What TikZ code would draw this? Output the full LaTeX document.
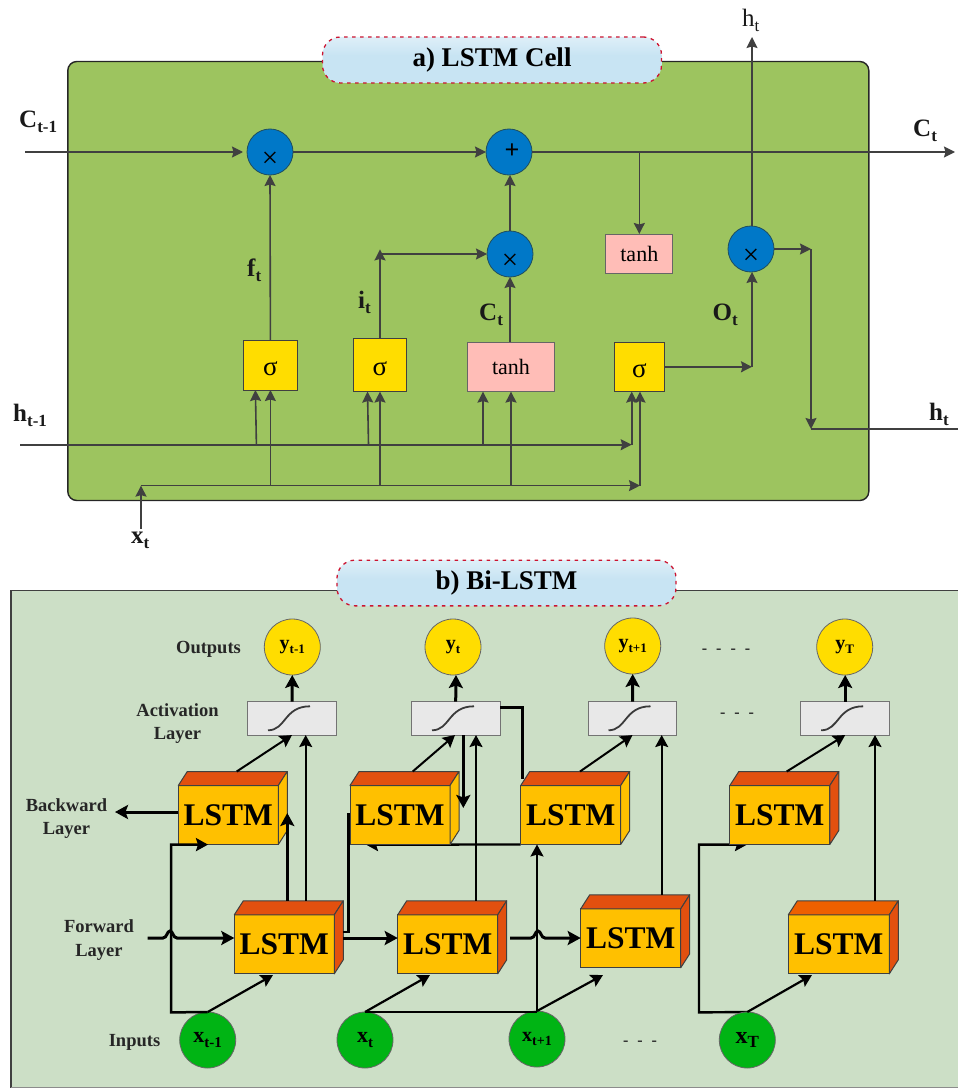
\documentclass[tikz,border=0pt]{standalone}
\usepackage{fontspec}
\setmainfont{Liberation Serif}
\usetikzlibrary{arrows.meta,calc}
\pgfdeclarelayer{backdrop}
\pgfdeclarelayer{wires}
\pgfsetlayers{backdrop,wires,main}
\definecolor{cellgreen}{HTML}{9DC45F}
\definecolor{panelgreen}{HTML}{CCDFC6}
\definecolor{linegray}{HTML}{404040}
\definecolor{opblue}{HTML}{0078C8}
\definecolor{opedge}{HTML}{1F4E5F}
\definecolor{gateyellow}{HTML}{FFDD00}
\definecolor{gatepink}{HTML}{FFBDB7}
\definecolor{blockfront}{HTML}{FFC000}
\definecolor{blockorange}{HTML}{E2500F}
\definecolor{blocktop}{HTML}{EE6000}
\definecolor{inputgreen}{HTML}{00B414}
\definecolor{actfill}{HTML}{E8E8E8}
\definecolor{pillbase}{HTML}{C8E4F3}
\definecolor{pillhi}{HTML}{E6F3FA}
\definecolor{pilldash}{HTML}{CC1430}
\pgfdeclareverticalshading{pillshade}{100bp}{color(0bp)=(pillbase); color(55bp)=(pillbase); color(82bp)=(pillhi); color(92bp)=(pillhi); color(100bp)=(pillbase)}
\newcommand{\fs}[1]{\fontsize{#1}{#1}\selectfont}
\newcommand{\sbs}[2]{\raisebox{-0.2em}{\fontsize{#1}{#1}\selectfont #2}}
\newcommand{\lowtext}[2]{\raisebox{0pt}[#1][0pt]{#2}}
% front face is a node; top and side are polygons hung on its anchors
\newcommand{\lstmblock}[6]{%
  \node (#1) [lstmface, minimum width=#4pt] at (#2,#3) {LSTM};
  \draw[blockedge, fill=#6] (#1.north west) -- ++(9,-14) -- ([shift={(9,-14)}]#1.north east) -- (#1.north east) -- cycle;
  \draw[blockedge, fill=#5] (#1.north east) -- ++(9,-14) -- ([shift={(9,-14)}]#1.south east) -- (#1.south east) -- cycle;
}
\newcommand{\scurve}[1]{%
  \draw[line width=1.8pt, color=linegray!90!black] ([shift={(-24,12)}]#1.center) .. controls ([shift={(-6,12)}]#1.center) and ([shift={(-8,-12)}]#1.center) .. ([shift={(18,-12)}]#1.center);
}
\tikzset{
  x=1pt, y=-1pt,
  arr/.style={color=linegray, line width=1.6pt, -{Stealth[length=11pt,width=11pt,inset=1.5pt]}},
  ln/.style={color=linegray, line width=1.6pt},
  thinarr/.style={color=black, line width=2pt, -{Stealth[length=12pt,width=13pt,inset=2pt]}},
  thickarr/.style={color=black, line width=3pt, -{Stealth[length=13pt,width=14pt,inset=2.5pt]}},
  thickln/.style={color=black, line width=2.5pt},
  opnode/.style={circle, draw=opedge, line width=0.8pt, fill=opblue, minimum size=46pt, inner sep=0pt, outer sep=0pt, font=\fs{29}},
  sigmabox/.style={rectangle, draw=linegray, line width=1pt, fill=gateyellow, inner sep=0pt, outer sep=0pt, font=\fs{27}},
  tanhbox/.style={rectangle, draw=linegray!80, line width=1pt, fill=gatepink, inner sep=0pt, outer sep=0pt, font=\fs{22}},
  pill/.style={rectangle, rounded corners=18pt, draw=pilldash, line width=1.3pt, dash pattern=on 3.5pt off 4.5pt, shading=pillshade, inner sep=0pt, font=\fs{27}\bfseries},
  lab/.style={inner sep=0pt, font=\fs{25}\bfseries, text=black!90},
  sidelab/.style={inner sep=0pt, align=center, font=\fs{18.5}\bfseries, text=black!85},
  lstmface/.style={rectangle, draw=linegray, line width=1pt, fill=blockfront, minimum height=59pt, inner sep=0pt, outer sep=0pt, font=\fs{31.5}\bfseries},
  blockedge/.style={draw=linegray, line width=1pt, line join=round},
  actbox/.style={rectangle, draw=black!55, line width=1pt, fill=actfill, minimum width=88.5pt, minimum height=33.5pt, inner sep=0pt, outer sep=0pt},
  outcircle/.style={circle, draw=black!60, line width=0.8pt, fill=gateyellow, minimum size=56pt, inner sep=0pt, outer sep=0pt, font=\fs{20}\bfseries},
  incircle/.style={circle, draw=black!60, line width=0.8pt, fill=inputgreen, minimum size=56pt, inner sep=0pt, outer sep=0pt, font=\fs{22}\bfseries},
  dotstext/.style={inner sep=0pt, font=\fs{16}\bfseries, text=black!85},
}
\begin{document}
\begin{tikzpicture}
\useasboundingbox (0,0) rectangle (958,1089);
% ---------- a) LSTM cell ----------
\node (cell) [rectangle, draw=black!85, line width=1.4pt, fill=cellgreen, rounded corners=9pt, minimum width=801pt, minimum height=439pt, inner sep=0pt, outer sep=0pt] at (468.3,281) {};
\node (titleA) [pill, minimum width=339pt, minimum height=46pt] at (492,60) {a) LSTM Cell};

\node (c1) [opnode] at (270,152) {\lowtext{30pt}{×}};
\node (cp) [opnode] at (509,152) {\lowtext{13pt}{\hspace{6pt}\fs{26}\bfseries +}};
\node (c2) [opnode] at (510,254) {\lowtext{30pt}{×}};
\node (c3) [opnode] at (751,249) {\lowtext{30pt}{×}};
\node (s1) [sigmabox, minimum width=53.5pt, minimum height=50pt] at (270.4,365) {\lowtext{21pt}{σ}};
\node (s2) [sigmabox, minimum width=53.5pt, minimum height=53.5pt] at (380,364.8) {\lowtext{21pt}{σ}};
\node (s3) [sigmabox, minimum width=49.5pt, minimum height=49.6pt] at (639.4,366.8) {\lowtext{21pt}{σ}};
\node (tb) [tanhbox, minimum width=86.5pt, minimum height=49.6pt] at (511,366.8) {tanh};
\node (ts) [tanhbox, minimum width=66.7pt, minimum height=39.6pt] at (639.3,253.8) {tanh};

\coordinate (cin) at (25,152);
\coordinate (cout) at (955,152);
\coordinate (hin) at (20,444.7);
\coordinate (hend) at (631.7,444.7);
\coordinate (xin) at (141,528.6);
\coordinate (xbus) at (141,485.6);
\coordinate (xend) at (640,485.6);
\coordinate (htop) at (752,37);
\coordinate (jh) at (811,249);
\coordinate (jhd) at (811,429);
\coordinate (hout) at (958,429);
\coordinate (itop) at (380,249.4);
\coordinate (ibus) at (380,254);

\draw[arr, shorten >=4pt] (cin) -- (c1.west);
\draw[arr] (c1.east) -- (cp.west);
\draw[arr] (cp.east) -- (cout);
\draw[arr] (cp.east -| ts.north) -- (ts.north);
\draw[arr] (s1.north) -- (c1.south);
\draw[arr] (s2.north) -- (itop);
\draw[arr] (ibus) -- (c2.west);
\draw[arr] (tb.north -| c2.south) -- (c2.south);
\draw[arr] (c2.north) -- (cp.south -| c2.north);
\draw[arr] (c3.north -| htop) -- (htop);
\draw[arr] (c3.east) -- (jh);
\draw[arr] (jh) -- (jhd);
\draw[ln] (jhd) -- (hout);
\draw[arr] (s3.east) -- (s3.east -| htop);
\draw[arr] (s3.east -| htop) -- (c3.south -| htop);
\draw[arr] (hin) -- (hend);
\draw[arr] (hend) -- (hend |- s3.south);
\draw[arr] (xin) -- (xbus);
\draw[arr] (xbus) -- (xend);
\draw[arr] (xend) -- (xend |- s3.south);
\draw[arr] ([xshift=-14pt]s1.south |- hin) -- ([xshift=-15pt]s1.south);
\draw[arr] (s1.south |- xbus) -- (s1.south);
\draw[arr] ([xshift=-11.5pt]s2.south |- hin) -- ([xshift=-12.5pt]s2.south);
\draw[arr] (s2.south |- xbus) -- (s2.south);
\draw[arr] ([xshift=-28pt]tb.south |- hin) -- ([xshift=-28pt]tb.south);
\draw[arr] (tb.south |- xbus) -- (tb.south);

\node (lC0) [lab, anchor=west] at (19,122) {C\sbs{17}{t-1}};
\node (lH0) [lab, anchor=west] at (13,415) {h\sbs{17}{t-1}};
\node (lF) [lab, anchor=west] at (247,270) {f\sbs{17}{t}};
\node (lI) [lab, anchor=west] at (358,302) {i\sbs{17}{t}};
\node (lCm) [lab, anchor=west] at (479,315) {C\sbs{17}{t}};
\node (lO) [lab, anchor=west] at (712.5,315) {O\sbs{17}{t}};
\node (lX) [lab, anchor=west] at (131,540) {x\sbs{17}{t}};
\node (lC1) [lab, anchor=west] at (913,131) {C\sbs{17}{t}};
\node (lH1) [lab, anchor=west] at (929,414) {h\sbs{17}{t}};
\node (lH2) [lab, anchor=west, font=\fs{25}] at (742,20) {h\sbs{17}{t}};

% ---------- b) Bi-LSTM ----------
\begin{pgfonlayer}{backdrop}
\node (panel) [rectangle, fill=panelgreen, minimum width=947pt, minimum height=497pt, inner sep=0pt, outer sep=0pt] at (484.5,839) {};
\draw[color=linegray, line width=1.8pt] (panel.south west) -- (panel.north west) -- (panel.north east);
\draw[color=black!45, line width=1pt] (panel.south west) -- (panel.south east);
\end{pgfonlayer}
\node (titleB) [pill, minimum width=339pt, minimum height=45.7pt] at (506.5,583) {b) Bi-LSTM};

\node (y1) [outcircle] at (292.3,647) {y\sbs{13}{t-1}};
\node (y2) [outcircle] at (453,647) {y\sbs{13}{t}};
\node (y3) [outcircle] at (632.7,646) {y\sbs{13}{t+1}};
\node (y4) [outcircle] at (844.7,647) {y\sbs{13}{T}};
\node (a1) [actbox] at (292,718.3) {};
\node (a2) [actbox] at (456,718.3) {};
\node (a3) [actbox] at (632.5,718.3) {};
\node (a4) [actbox] at (845.2,718.3) {};
\scurve{a1}\scurve{a2}\scurve{a3}\scurve{a4}

\lstmblock{b1}{228.3}{815}{100}{blockfront}{blockorange}
\lstmblock{b2}{400}{815}{100}{blockfront}{blockorange}
\lstmblock{b3}{570.7}{815}{100}{blockfront}{blockorange}
\lstmblock{b4}{779.8}{815}{100}{blockorange}{blockorange}
\lstmblock{f1}{284.3}{944.3}{100}{blockorange}{blockorange}
\lstmblock{f2}{447.7}{944.3}{100}{blockorange}{blockorange}
\lstmblock{f3}{630.7}{938.3}{100}{blockorange}{blockorange}
\lstmblock{f4}{838.8}{944.3}{101}{blockorange}{blocktop}

\node (x1) [incircle] at (207.7,1040) {x\sbs{15}{t-1}};
\node (x2) [incircle] at (365,1040) {x\sbs{15}{t}};
\node (x3) [incircle, font=\fs{20}\bfseries] at (537,1039) {x\sbs{14}{t+1}};
\node (x4) [incircle, font=\fs{24}\bfseries] at (747.3,1040) {x\sbs{17}{T}};

\coordinate (w1) at (171,1012.4);
\coordinate (w4) at (699,1012.4);
\coordinate (back) at (115,812);
\coordinate (fin) at (147.7,938);
\coordinate (t1) at (208,844.6);
\coordinate (t4) at (747,844.6);
\coordinate (t3) at (366,844.6);

% outputs
\draw[thickarr] (a1.north) -- (y1.south);
\draw[thickarr] ([xshift=-0.3pt]a2.north) -- (y2.south -| a2.north);
\draw[thickarr] (a3.north) -- (y3.south);
\draw[thickarr] (a4.north) -- (y4.south -| a4.north);
% backward blocks to activation
\draw[thinarr] ([xshift=8.4pt]b1.north) ++(0,-14) -- (a1.south);
\draw[thinarr] ([xshift=12.7pt]b2.north) ++(0,-14) -- ([xshift=-1pt]a2.south);
\draw[thinarr] ([xshift=9.3pt]b3.north) ++(0,-14) -- (a3.south);
\draw[thinarr] ([xshift=6.9pt]b4.north) ++(0,-14) -- (a4.south);
% forward blocks to activation
\draw[thinarr] ([xshift=21.4pt]f1.north) ++(0,-14) -- (a1.south -| 305.7,0);
\draw[thinarr] ([xshift=28.3pt]f2.north) ++(0,-14) -- (a2.south -| 476,0);
\draw[thinarr] ([xshift=31pt]f3.north) ++(0,-14) -- (a3.south -| 661.7,0);
\draw[thinarr] ([xshift=36.2pt]f4.north) ++(0,-14) -- (a4.south -| 875,0);
% cross links
\draw[thickarr] ([xshift=3pt]f1.north) ++(0,-14) -- (287.3,813);
\draw[thickarr] (b1.west |- back) -- (back);
\draw[thickarr] (a2.south -| 463.3,0) -- (463.3,808);
\draw[thickln, line join=miter] (f1.east |- 0,932) ++(9,0) -- (348.5,932) -- (348.5,813);
\draw[thickln, line join=miter] (a2.east |- 0,707.4) -- (522.3,707.4) -- (522.3,779);
\begin{pgfonlayer}{wires}
\draw[thinarr, line width=2.4pt] (b3.south west) -- (t3);
\draw[thinarr, line width=2.4pt, line join=miter] (x4.north) -- (w4) -- (w4 |- t4) -- (t4);
\end{pgfonlayer}
\draw[thinarr, line width=2.2pt] (x3.north) -- (x3.north |- b3.south);
% forward chain with humps
\draw[thickarr] (fin) -- ++(15.3,0) .. controls +(4,0) and +(-3,0) .. ++(7,-7) .. controls +(3,0) and +(-4,0) .. ++(7,7) -- (f1.west |- fin);
\draw[thickarr] (f1.east |- fin) ++(9,0) -- (f2.west |- fin);
\draw[thickarr] (f2.east |- fin) ++(12.3,0) -- ++(21,0) .. controls +(4,0) and +(-3,0) .. ++(7,-7) .. controls +(3,0) and +(-4,0) .. ++(7,7) -- (f3.west |- fin);
% inputs
\draw[thinarr, line width=2.5pt, line join=miter] (x1.north) -- (w1) -- (w1 |- t1) -- (t1);
\draw[thinarr, line width=2.2pt] (x1.north) -- (273,975);
\draw[thinarr, line width=2.2pt] (x2.north) -- (430,975);
\draw[thickln] (x2.north) -- (x2.north -| x3.north);
\draw[thinarr, line width=2.2pt] (x3.north) -- (603,975);
\draw[thinarr, line width=2.2pt] (x4.north) -- (812,975);

% side labels
\node (lOut) [sidelab] at (208.5,649) {Outputs};
\node (lAct) [sidelab] at (177.5,723.5) {Activation\\[5pt]Layer};
\node (lBack) [sidelab] at (66.5,818.5) {Backward\\[5pt]Layer};
\node (lFor) [sidelab] at (99,940) {Forward\\[5pt]Layer};
\node (lIn) [sidelab] at (134.5,1042) {Inputs};
\node (dots1) [dotstext] at (726,651) {-\hspace{9pt}-\hspace{9pt}-\hspace{9pt}-};
\node (dots2) [dotstext] at (737,715.5) {-\hspace{9pt}-\hspace{9pt}-};
\node (dots3) [dotstext] at (640,1043.5) {-\hspace{9pt}-\hspace{9pt}-};
\end{tikzpicture}
\end{document}
